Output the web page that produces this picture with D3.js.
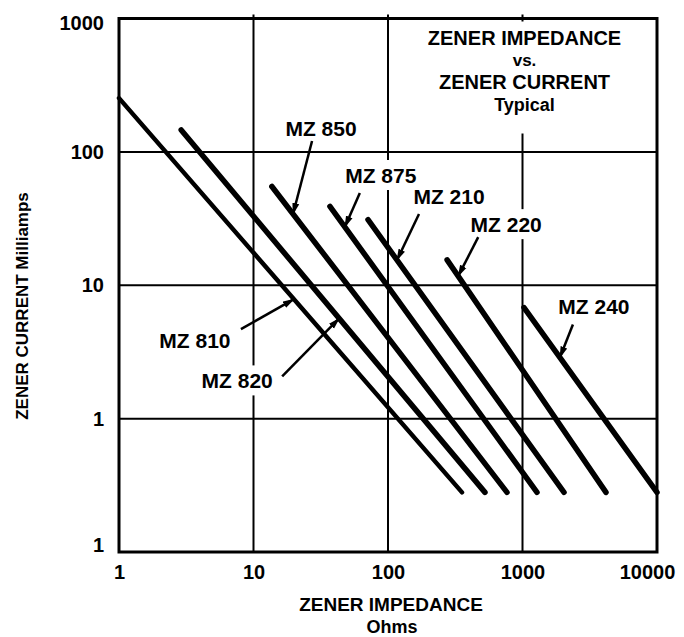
<!DOCTYPE html>
<html>
<head>
<meta charset="utf-8">
<script src="https://cdn.jsdelivr.net/npm/d3@7"></script>
<style>
  html, body { margin: 0; padding: 0; background: #fff; }
  svg { display: block; }
  text { font-family: "Liberation Sans", Arial, sans-serif; font-weight: bold; fill: #000; }
</style>
</head>
<body>
<script>
// ---- data ----
const models = ["MZ 810", "MZ 820", "MZ 850", "MZ 875", "MZ 210", "MZ 220", "MZ 240"];
const impedanceStart = [1, 2.9, 13.7, 37, 71, 275, 1026];      // Ohms
const currentStart   = [253, 146, 55, 39, 31, 15.5, 6.8];       // mA
const impedanceEnd   = [355, 526, 767, 1282, 2036, 4177, 10000];
const currentEnd     = [0.28, 0.28, 0.28, 0.28, 0.28, 0.28, 0.28];

const xTicks = [1, 10, 100, 1000, 10000];
const xTickLabels = ["1", "10", "100", "1000", "10000"];
const yTicks = [0.1, 1, 10, 100, 1000];
const yTickLabels = ["1", "1", "10", "100", "1000"];

const titleLines = ["ZENER IMPEDANCE", "vs.", "ZENER CURRENT", "Typical"];
const xTitle = ["ZENER IMPEDANCE", "Ohms"];
const yTitle = "ZENER CURRENT  Milliamps";

// annotation: fraction along each line where arrow tip touches
const arrowAt = [0.51, 0.52, 0.09, 0.072, 0.148, 0.07, 0.27];

// ---- layout ----
const W = 684, H = 637;
const margin = { left: 119, top: 18.5, right: 27, bottom: 85 };

const svg = d3.select("body").append("svg").attr("width", W).attr("height", H);

const x = d3.scaleLog().domain([1, 10000]).range([margin.left, W - margin.right]);
const y = d3.scaleLog().domain([0.1, 1000]).range([H - margin.bottom, margin.top]);

const defs = svg.append("defs");
defs.append("marker")
  .attr("id", "arrow")
  .attr("markerUnits", "userSpaceOnUse")
  .attr("viewBox", "0 0 12 8")
  .attr("refX", 11).attr("refY", 4)
  .attr("markerWidth", 12).attr("markerHeight", 8)
  .attr("orient", "auto")
  .append("path").attr("d", "M0,0.5 L12,4 L0,7.5 Z").attr("fill", "#000");

// grid lines
const grid = svg.append("g");
grid.selectAll("line.vx").data(xTicks.slice(1, -1)).join("line")
  .attr("x1", d => x(d)).attr("x2", d => x(d))
  .attr("y1", y(1000) - 4).attr("y2", y(0.1))
  .attr("stroke", "#000").attr("stroke-width", 2);
grid.selectAll("line.hy").data(yTicks.slice(1, -1)).join("line")
  .attr("y1", d => y(d)).attr("y2", d => y(d))
  .attr("x1", x(1)).attr("x2", x(10000))
  .attr("stroke", "#000").attr("stroke-width", 2);

// frame
svg.append("rect")
  .attr("x", x(1)).attr("y", y(1000))
  .attr("width", x(10000) - x(1)).attr("height", y(0.1) - y(1000))
  .attr("fill", "none").attr("stroke", "#000").attr("stroke-width", 3);

// title box background + text
const titleG = svg.append("g");
titleG.append("rect")
  .attr("x", x(1000) - 110).attr("y", y(1000) + 3)
  .attr("width", 220).attr("height", 112)
  .attr("fill", "#fff");
const titleBase = [45, 66, 89, 111];
const titleSize = [20, 17, 20, 18];
titleG.selectAll("text").data(titleLines).join("text")
  .attr("x", x(1000) + 2)
  .attr("y", (d, i) => titleBase[i])
  .attr("text-anchor", "middle")
  .attr("font-size", (d, i) => titleSize[i])
  .text(d => d);

// series geometry
const series = models.map((m, i) => ({
  name: m,
  pts: [[impedanceStart[i], currentStart[i]], [impedanceEnd[i], currentEnd[i]]],
  t: arrowAt[i]
}));

// annotation offsets (pixels relative to arrow tip): tail and label center
const tailOff = [[-53, 30], [-57, 58], [19, -73], [15, -34], [22, -46], [20, -39], [13, -33]];
const labelOff = [[-99, 41], [-102, 62], [28, -86], [36, -52], [52, -64], [48, -52], [34, -51]];

const tips = series.map(s => {
  const p0 = [x(s.pts[0][0]), y(s.pts[0][1])];
  const p1 = [x(s.pts[1][0]), y(s.pts[1][1])];
  return [p0[0] + (p1[0] - p0[0]) * s.t, p0[1] + (p1[1] - p0[1]) * s.t];
});

// label backgrounds
const annG = svg.append("g");
const labelsBg = annG.append("g");
const labelsTxt = annG.append("g");
series.forEach((s, i) => {
  const cx = tips[i][0] + labelOff[i][0];
  const cy = tips[i][1] + labelOff[i][1];
  labelsBg.append("rect")
    .attr("x", cx - 42).attr("y", cy - 15)
    .attr("width", 84).attr("height", 30)
    .attr("fill", "#fff");
});

// series lines
const line = d3.line().x(d => x(d[0])).y(d => y(d[1]));
svg.append("g").selectAll("path").data(series).join("path")
  .attr("d", d => line(d.pts))
  .attr("fill", "none").attr("stroke", "#000")
  .attr("stroke-width", (d, i) => i === 0 ? 4.5 : 5.5)
  .attr("stroke-linecap", "round");

// arrows and labels
series.forEach((s, i) => {
  const tx = tips[i][0], ty = tips[i][1];
  svg.append("line")
    .attr("x1", tx + tailOff[i][0]).attr("y1", ty + tailOff[i][1])
    .attr("x2", tx).attr("y2", ty)
    .attr("stroke", "#000").attr("stroke-width", 2.5)
    .attr("marker-end", "url(#arrow)");
  labelsTxt.append("text")
    .attr("x", tx + labelOff[i][0]).attr("y", ty + labelOff[i][1])
    .attr("text-anchor", "middle").attr("dominant-baseline", "central")
    .attr("font-size", 21)
    .text(s.name);
});
labelsTxt.raise();

// axes
const xAxis = d3.axisBottom(x).tickValues(xTicks)
  .tickFormat((d, i) => xTickLabels[i]).tickSize(0).tickPadding(13);
const gx = svg.append("g").attr("transform", `translate(0,${y(0.1)})`).call(xAxis);
gx.select(".domain").remove();
gx.selectAll("text").attr("font-size", 20).attr("font-family", "Liberation Sans, Arial, sans-serif")
  .attr("font-weight", "bold").attr("fill", "#000")
  .attr("dx", (d, i) => i === xTicks.length - 1 ? -10 : 0);

const yAxis = d3.axisLeft(y).tickValues(yTicks)
  .tickFormat((d, i) => yTickLabels[i]).tickSize(0).tickPadding(15);
const gy = svg.append("g").attr("transform", `translate(${x(1)},0)`).call(yAxis);
gy.select(".domain").remove();
gy.selectAll("text").attr("font-size", 20).attr("font-family", "Liberation Sans, Arial, sans-serif")
  .attr("font-weight", "bold").attr("fill", "#000")
  .attr("transform", (d, i) => i === 0 ? "translate(0,-7)" : (i === yTicks.length - 1 ? "translate(0,5)" : null));

// axis titles
svg.append("text")
  .attr("x", x(100) + 3).attr("y", 611)
  .attr("text-anchor", "middle").attr("font-size", 19)
  .text(xTitle[0]);
svg.append("text")
  .attr("x", x(100) + 4).attr("y", 633)
  .attr("text-anchor", "middle").attr("font-size", 18)
  .text(xTitle[1]);
svg.append("text")
  .attr("transform", `translate(28,${306}) rotate(-90)`)
  .attr("text-anchor", "middle").attr("font-size", 17)
  .text(yTitle);
</script>
</body>
</html>
